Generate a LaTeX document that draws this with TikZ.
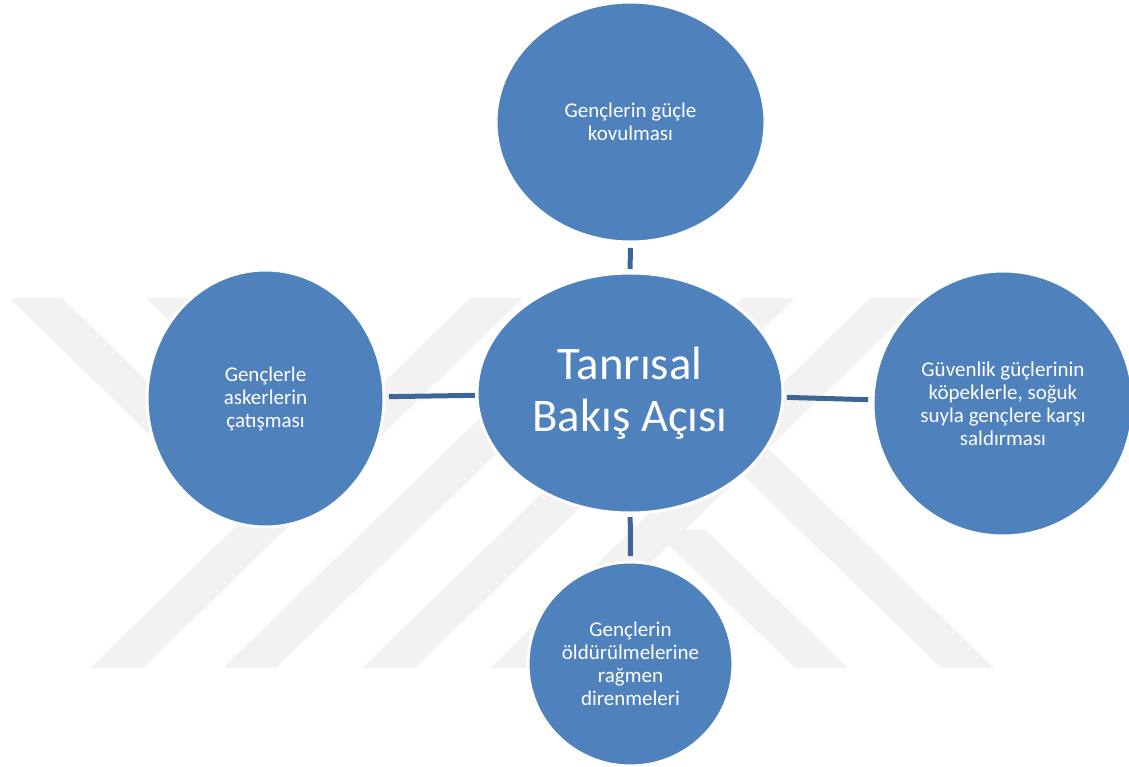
\documentclass[tikz,border=0pt]{standalone}
\usepackage{fontspec}
\setmainfont{Carlito}
\usetikzlibrary{shapes.geometric,backgrounds}
\definecolor{bubble}{RGB}{79,129,189}
\definecolor{linkc}{RGB}{60,102,152}
\definecolor{wm}{RGB}{242,242,242}
\begin{document}
\begin{tikzpicture}[x=1pt,y=-1pt,
  bub/.style={ellipse, fill=bubble, draw=white, line width=3pt, inner sep=0pt, outer sep=0pt},
  lbl/.style={text=white, align=center, inner sep=0pt, font=\fontsize{21}{23}\selectfont},
  biglbl/.style={text=white, align=center, inner sep=0pt, font=\fontsize{46.7}{52}\selectfont},
  link/.style={draw=linkc, line width=5pt},
  wmband/.style={fill=wm}]
\useasboundingbox (0,0) rectangle (1129,767);

% bubbles
\node[bub, minimum width=269, minimum height=240] (top) at (630.5,122) {};
\node[bub, minimum width=306, minimum height=240] (center) at (630,393) {};
\node[bub, minimum width=237, minimum height=257] (left) at (265.5,398.5) {};
\node[bub, minimum width=260, minimum height=265] (right) at (1003,403.5) {};
\node[bub, minimum width=205, minimum height=204] (bottom) at (630.5,664) {};

% labels
\node[lbl] (toplbl) at (top.center) {Gençlerin güçle\\kovulması};
\node[biglbl] (centerlbl) at (center.center) {Tanrısal\\Bakış Açısı};
\node[lbl] (leftlbl) at (left.center) {Gençlerle\\askerlerin\\çatışması};
\node[lbl] (rightlbl) at (right.center) {Güvenlik güçlerinin\\köpeklerle, soğuk\\suyla gençlere karşı\\saldırması};
\node[lbl] (bottomlbl) at (bottom.center) {Gençlerin\\öldürülmelerine\\rağmen\\direnmeleri};

\begin{pgfonlayer}{background}
\fill[white] (0,0) rectangle (1129,767);
% watermark
\fill[wmband] (90,668) -- (143,668) -- (523,298) -- (470,298) -- cycle;
\fill[wmband] (223,668) -- (276,668) -- (656,298) -- (603,298) -- cycle;
\fill[wmband] (362,668) -- (415,668) -- (795,298) -- (742,298) -- cycle;
\fill[wmband] (490,668) -- (543,668) -- (923,298) -- (870,298) -- cycle;
\fill[wmband] (9,298) -- (62,298) -- (269.5,500) -- (216.5,500) -- cycle;
\fill[wmband] (146,298) -- (199,298) -- (303.8,400) -- (250.8,400) -- cycle;
\fill[wmband] (653,530) -- (706,530) -- (848,668) -- (795,668) -- cycle;
\fill[wmband] (561,298) -- (614,298) -- (994,668) -- (941,668) -- cycle;
% connectors
\draw[link, shorten <=6pt, shorten >=4pt] (top) -- (center);
\draw[link, shorten <=4pt, shorten >=6pt] (center) -- (bottom);
\draw[link, shorten <=5pt, shorten >=2pt] (left) -- (center);
\draw[link, shorten <=4pt, shorten >=5pt] (center) -- (right);
\end{pgfonlayer}
\end{tikzpicture}
\end{document}
